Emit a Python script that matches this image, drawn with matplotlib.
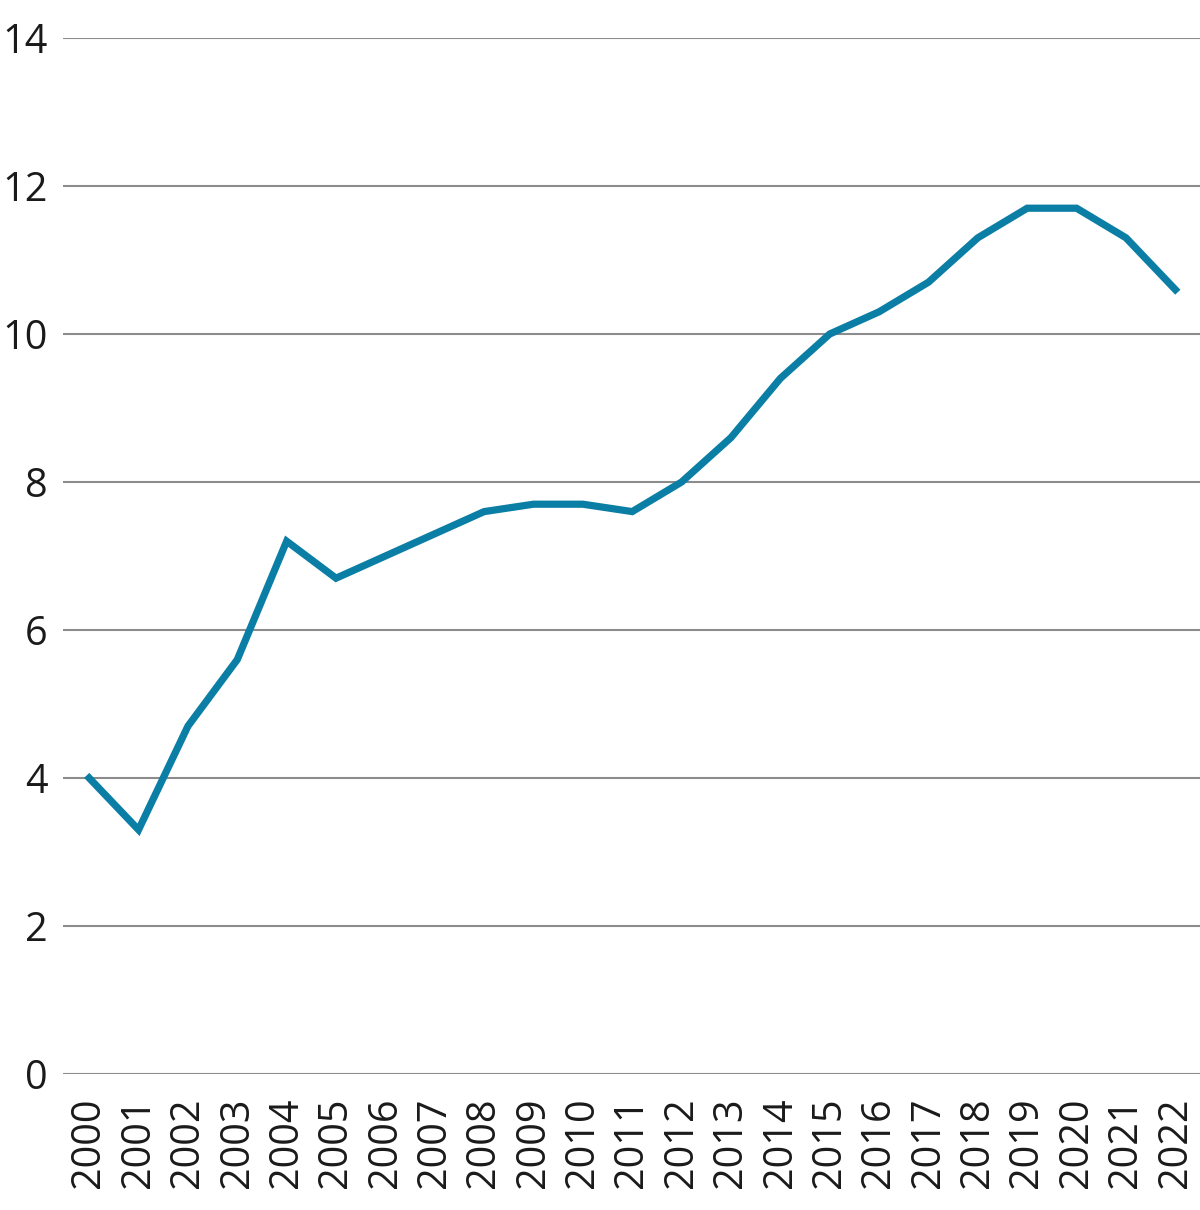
import matplotlib
matplotlib.use("Agg")
import matplotlib.pyplot as plt

plt.rcParams['font.family'] = ['Open Sans', 'DejaVu Sans']

years = [str(y) for y in range(2000, 2023)]
values = [4.0, 3.3, 4.7, 5.6, 7.2, 6.7, 7.0, 7.3, 7.6, 7.7, 7.7, 7.6,
          8.0, 8.6, 9.4, 10.0, 10.3, 10.7, 11.3, 11.7, 11.7, 11.3, 10.6]
yticks = [0, 2, 4, 6, 8, 10, 12, 14]

fig = plt.figure(figsize=(12, 12.1), dpi=100)
ax = fig.add_axes([63 / 1200, 1 - 1074 / 1210, 1 - 63 / 1200, (1074 - 38) / 1210])

x = list(range(len(years)))
ax.plot(x, values, color="#0a7ea4", linewidth=5.2, solid_joinstyle="miter", zorder=3)

ax.set_ylim(0, 14)
ax.set_xlim(-0.53, 22.5)
ax.set_yticks(yticks)
ax.set_yticklabels([str(t) for t in yticks])
ax.set_xticks(x)
ax.set_xticklabels(years, rotation=90)
ax.grid(axis="y", color="#8c8c8c", linewidth=1.5)
ax.set_axisbelow(True)
for s in ax.spines.values():
    s.set_visible(False)
ax.tick_params(axis="both", length=0, labelsize=28.5, colors="#1a1a1a")
ax.tick_params(axis="y", pad=11)
ax.tick_params(axis="x", pad=17)
for lbl in ax.get_yticklabels():
    lbl.set_verticalalignment("center_baseline")

fig.savefig("out.png", dpi=100)
